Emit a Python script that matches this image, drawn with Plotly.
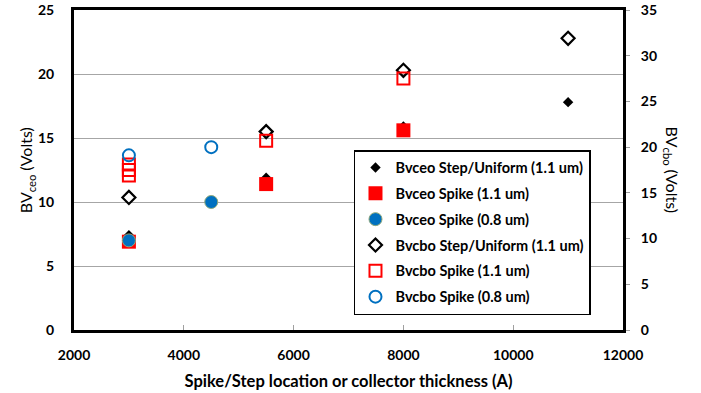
import plotly.graph_objects as go

# ---- data ----
x_ceo_step = [3000, 5500, 8000, 11000]
y_ceo_step = [7.4, 11.9, 15.9, 17.8]

x_ceo_spike11 = [3000, 5500, 8000]
y_ceo_spike11 = [6.9, 11.4, 15.6]

x_ceo_spike08 = [3000, 4500]
y_ceo_spike08 = [7.0, 10.0]

x_cbo_step = [3000, 5500, 8000, 11000]
y_cbo_step = [14.5, 21.7, 28.4, 31.9]

x_cbo_spike11 = [3000, 3000, 3000, 5500, 8000]
y_cbo_spike11 = [18.1, 17.5, 16.9, 20.7, 27.5]

x_cbo_spike08 = [3000, 4500]
y_cbo_spike08 = [19.1, 20.0]

x_ticks = [2000, 4000, 6000, 8000, 10000, 12000]
y1_ticks = [0, 5, 10, 15, 20, 25]
y2_ticks = [0, 5, 10, 15, 20, 25, 30, 35]

FONT = "Lato"
RED = "#FF0000"
BLUE = "#0070C0"

fig = go.Figure()

fig.add_trace(go.Scatter(x=x_ceo_step, y=y_ceo_step, mode="markers",
                         name="Bvceo Step/Uniform (1.1 um)", legendgroup="a",
                         marker=dict(symbol="diamond", size=8, color="black")))
fig.add_trace(go.Scatter(x=x_ceo_spike11, y=y_ceo_spike11, mode="markers",
                         name="Bvceo Spike (1.1 um)", legendgroup="b",
                         marker=dict(symbol="square", size=14, color=RED)))
fig.add_trace(go.Scatter(x=x_ceo_spike08, y=y_ceo_spike08, mode="markers",
                         name="Bvceo Spike (0.8 um)", legendgroup="c",
                         marker=dict(symbol="circle", size=13, color=BLUE,
                                     line=dict(color="#8FA87A", width=1))))
fig.add_trace(go.Scatter(x=x_cbo_step, y=y_cbo_step, mode="markers", yaxis="y2",
                         name="Bvcbo Step/Uniform (1.1 um)", legendgroup="d",
                         marker=dict(symbol="diamond-open", size=10, color="black",
                                     line=dict(color="black", width=2.2))))
fig.add_trace(go.Scatter(x=x_cbo_spike11, y=y_cbo_spike11, mode="markers", yaxis="y2",
                         name="Bvcbo Spike (1.1 um)", legendgroup="e",
                         marker=dict(symbol="square-open", size=12, color=RED,
                                     line=dict(color=RED, width=2))))
fig.add_trace(go.Scatter(x=x_cbo_spike08, y=y_cbo_spike08, mode="markers", yaxis="y2",
                         name="Bvcbo Spike (0.8 um)", legendgroup="f",
                         marker=dict(symbol="circle-open", size=12, color=BLUE,
                                     line=dict(color=BLUE, width=2))))

tickfont = dict(family=FONT, size=14, color="black", weight="bold")

fig.update_layout(
    width=701, height=393,
    margin=dict(l=74, r=78, t=10, b=63),
    paper_bgcolor="white", plot_bgcolor="white",
    font=dict(family=FONT, color="black"),
    xaxis=dict(range=[2000, 12000], tickvals=x_ticks, ticktext=[str(v) for v in x_ticks],
               showgrid=False, zeroline=False, automargin=False,
               showline=True, linecolor="black", linewidth=3, mirror=True,
               ticks="inside", ticklen=5, tickcolor="#A0A0A0", tickwidth=1,
               tickfont=tickfont, ticklabelstandoff=10,
               title=dict(text="<b>Spike/Step location or collector thickness (A)</b>",
                          font=dict(family=FONT, size=16.5, color="black"), standoff=14)),
    yaxis=dict(range=[0, 25], tickvals=y1_ticks, showgrid=True, gridcolor="#A6A6A6",
               gridwidth=1, zeroline=False, automargin=False,
               showline=True, linecolor="black", linewidth=3,
               ticks="", tickfont=tickfont, ticklabelstandoff=14),
    yaxis2=dict(range=[0, 35], tickvals=y2_ticks, overlaying="y", side="right",
                showgrid=False, zeroline=False, automargin=False,
                showline=True, linecolor="black", linewidth=3,
                ticks="outside", ticklen=4, tickcolor="#A0A0A0",
                tickfont=tickfont, ticklabelstandoff=8),
    legend=dict(x=0.51, y=0.5625, xanchor="left", yanchor="top",
                bgcolor="white", bordercolor="black", borderwidth=1.5,
                font=dict(family=FONT, size=14.5, color="black", weight="bold"),
                traceorder="grouped", tracegroupgap=4, itemsizing="trace",
                itemwidth=30),
    showlegend=True,
    annotations=[
        dict(text="BV<sub>ceo</sub> (Volts)", xref="paper", yref="paper",
             x=-0.087, y=0.5, xanchor="center", yanchor="middle", textangle=-90,
             showarrow=False, font=dict(family=FONT, size=16, color="black")),
        dict(text="BV<sub>cbo</sub> (Volts)", xref="paper", yref="paper",
             x=1.09, y=0.5, xanchor="center", yanchor="middle", textangle=90,
             showarrow=False, font=dict(family=FONT, size=16, color="black")),
    ],
)

fig.write_html("out.html")
